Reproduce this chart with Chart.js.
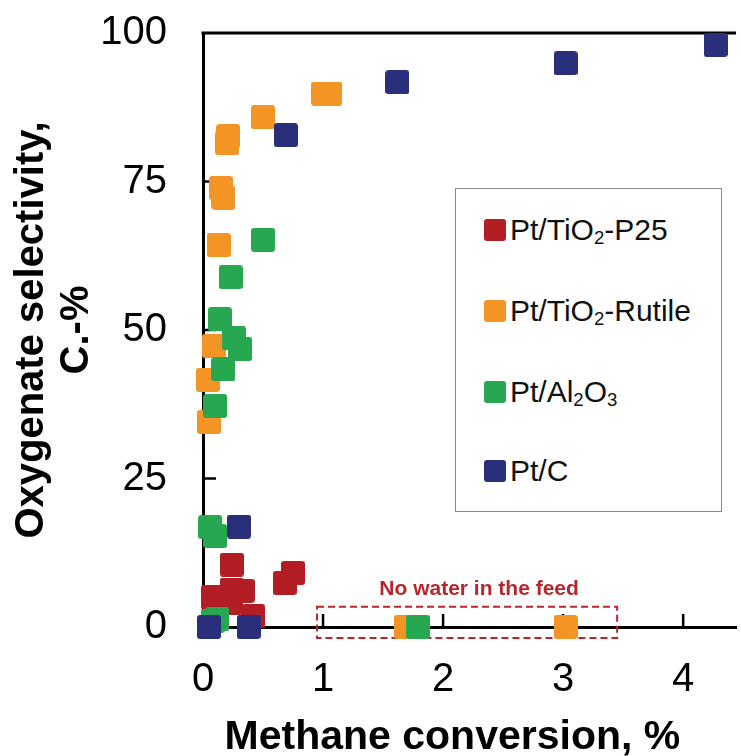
<!DOCTYPE html>
<html>
<head>
<meta charset="utf-8">
<script src="https://cdn.jsdelivr.net/npm/chart.js@4.4.0/dist/chart.umd.min.js"></script>
<style>
  html, body { margin: 0; padding: 0; background: #fff; overflow: hidden; }
  #wrap { position: relative; width: 741px; height: 756px; }
  #legend {
    position: absolute; left: 455px; top: 188px; width: 267px; height: 324px;
    box-sizing: border-box; border: 1px solid #8a8a8a; background: #fff;
    font-family: "Liberation Sans", Arial, sans-serif; font-size: 30px; color: #111;
  }
  .item { position: absolute; left: 28px; height: 32px; display: flex; align-items: center; white-space: nowrap; }
  .sw { width: 22px; height: 22px; border-radius: 3px; margin-right: 4px; flex: none; }
  sub { font-size: 0.62em; vertical-align: -0.22em; line-height: 0; }
</style>
</head>
<body>
<div id="wrap">
  <canvas id="chart" width="741" height="756"></canvas>
  <div id="legend"></div>
</div>
<script>
// Pt/TiO2-P25
const p25X = [0.08, 0.24, 0.24, 0.23, 0.33, 0.42, 0.68, 0.75];
const p25Y = [5.0, 10.5, 6.3, 4.1, 6.1, 1.8, 7.4, 9.1];
// Pt/TiO2-Rutile
const rutX = [0.05, 0.04, 0.09, 0.13, 0.15, 0.17, 0.20, 0.21, 0.50, 1.00, 1.06, 1.69, 3.02];
const rutY = [34.5, 41.6, 47.3, 64.3, 73.9, 72.3, 81.5, 82.6, 85.8, 89.8, 89.8, 0, 0];
// Pt/Al2O3
const aluX = [0.08, 0.12, 0.06, 0.10, 0.10, 0.17, 0.31, 0.26, 0.14, 0.23, 0.50, 1.79];
const aluY = [1.0, 1.3, 16.8, 15.3, 37.2, 43.4, 46.8, 48.6, 51.8, 58.9, 65.2, 0];
// Pt/C
const carX = [0.05, 0.38, 0.30, 0.69, 1.62, 3.02, 4.27];
const carY = [0, 0, 16.9, 82.8, 91.7, 94.9, 98.0];

const seriesNames = ["Pt/TiO2-P25", "Pt/TiO2-Rutile", "Pt/Al2O3", "Pt/C"];
const legendHtml = ["Pt/TiO<sub>2</sub>-P25", "Pt/TiO<sub>2</sub>-Rutile", "Pt/Al<sub>2</sub>O<sub>3</sub>", "Pt/C"];
const seriesColors = ["#b21e24", "#f39425", "#27a750", "#2a2f7c"];
const xTicks = [0, 1, 2, 3, 4];
const yTicks = [0, 25, 50, 75, 100];
const noteText = "No water in the feed";

function toPoints(xs, ys) {
  return xs.map((x, i) => ({ x, y: ys[i] }));
}

function squareMarker(color) {
  const c = document.createElement("canvas");
  c.width = 24; c.height = 24;
  const g = c.getContext("2d");
  g.fillStyle = color;
  g.beginPath();
  if (g.roundRect) g.roundRect(0, 0, 24, 24, 3); else g.rect(0, 0, 24, 24);
  g.fill();
  return c;
}

const allX = [p25X, rutX, aluX, carX];
const allY = [p25Y, rutY, aluY, carY];
// blue drawn on top, then green, orange, red at the bottom
const drawOrder = [4, 3, 2, 1];

const datasets = seriesNames.map((name, i) => ({
  label: name,
  data: toPoints(allX[i], allY[i]),
  pointStyle: squareMarker(seriesColors[i]),
  backgroundColor: seriesColors[i],
  borderColor: seriesColors[i],
  order: drawOrder[i],
  clip: false,
}));

const frame = {
  id: "frame",
  beforeDatasetsDraw(chart) {
    const { ctx, chartArea: a, scales: { x, y } } = chart;
    ctx.save();
    ctx.strokeStyle = "#000";
    ctx.lineWidth = 3;
    ctx.beginPath();
    ctx.moveTo(a.left - 1.5, a.top);
    ctx.lineTo(a.right, a.top);
    ctx.stroke();

    // inward tick marks
    ctx.lineWidth = 2.5;
    ctx.beginPath();
    xTicks.slice(1).forEach((v) => {
      const px = x.getPixelForValue(v);
      ctx.moveTo(px, a.bottom);
      ctx.lineTo(px, a.bottom - 13);
    });
    yTicks.slice(1, -1).forEach((v) => {
      const py = y.getPixelForValue(v);
      ctx.moveTo(a.left, py);
      ctx.lineTo(a.left + 13, py);
    });
    ctx.stroke();

    // "no water" note
    const x1 = x.getPixelForValue(0.95), x2 = x.getPixelForValue(3.45);
    const y1 = y.getPixelForValue(3.4), y2 = y.getPixelForValue(-1.85);
    ctx.strokeStyle = "#b8262c";
    ctx.lineWidth = 2;
    ctx.setLineDash([7, 4]);
    ctx.strokeRect(x1, y1, x2 - x1, y2 - y1);
    ctx.setLineDash([]);
    ctx.fillStyle = "#b8262c";
    ctx.font = "bold 21px 'Liberation Sans', Arial, sans-serif";
    ctx.textAlign = "center";
    ctx.textBaseline = "middle";
    ctx.fillText(noteText, x.getPixelForValue(2.3), y.getPixelForValue(6.4));
    ctx.restore();
  },
};

const tickFont = { family: "'Liberation Sans', Arial, sans-serif", size: 40 };
const titleFont = { family: "'Liberation Sans', Arial, sans-serif", size: 41, weight: "bold" };

new Chart(document.getElementById("chart"), {
  type: "scatter",
  data: { datasets },
  options: {
    responsive: false,
    animation: false,
    layout: { padding: { top: 33, right: 0, bottom: 0, left: 0 } },
    plugins: { legend: { display: false }, tooltip: { enabled: false } },
    scales: {
      x: {
        type: "linear",
        min: 0,
        max: 4.44,
        ticks: { stepSize: 1, color: "#000", font: tickFont, padding: 29, maxRotation: 0 },
        afterBuildTicks: (s) => { s.ticks = xTicks.map((v) => ({ value: v })); },
        afterFit: (s) => { s.height = 129; s.paddingLeft = 0; s.paddingRight = 0; },
        grid: { display: false, drawTicks: false },
        border: { color: "#000", width: 3 },
        title: {
          display: true,
          text: "Methane conversion, %\u00a0\u00a0\u00a0",
          color: "#000",
          font: { ...titleFont, lineHeight: 0.9 },
          padding: { top: 0, bottom: 0 },
        },
      },
      y: {
        min: 0,
        max: 100,
        ticks: { stepSize: 25, color: "#000", font: tickFont, padding: 36 },
        afterBuildTicks: (s) => { s.ticks = yTicks.map((v) => ({ value: v })); },
        afterFit: (s) => { s.width = 203; s.paddingTop = 0; s.paddingBottom = 0; },
        grid: { display: false, drawTicks: false },
        border: { color: "#000", width: 3 },
        title: {
          display: true,
          text: ["Oxygenate selectivity,", "C.-%"],
          color: "#000",
          font: { ...titleFont, size: 40, lineHeight: 1.125 },
          padding: { top: 9, bottom: 0 },
        },
      },
    },
  },
  plugins: [frame],
});

// legend box
const legendEl = document.getElementById("legend");
const rowTops = [41, 122, 203, 282];
legendHtml.forEach((html, i) => {
  const row = document.createElement("div");
  row.className = "item";
  row.style.top = rowTops[i] - 16 + "px";
  row.innerHTML = `<span class="sw" style="background:${seriesColors[i]}"></span><span>${html}</span>`;
  legendEl.appendChild(row);
});
</script>
</body>
</html>
